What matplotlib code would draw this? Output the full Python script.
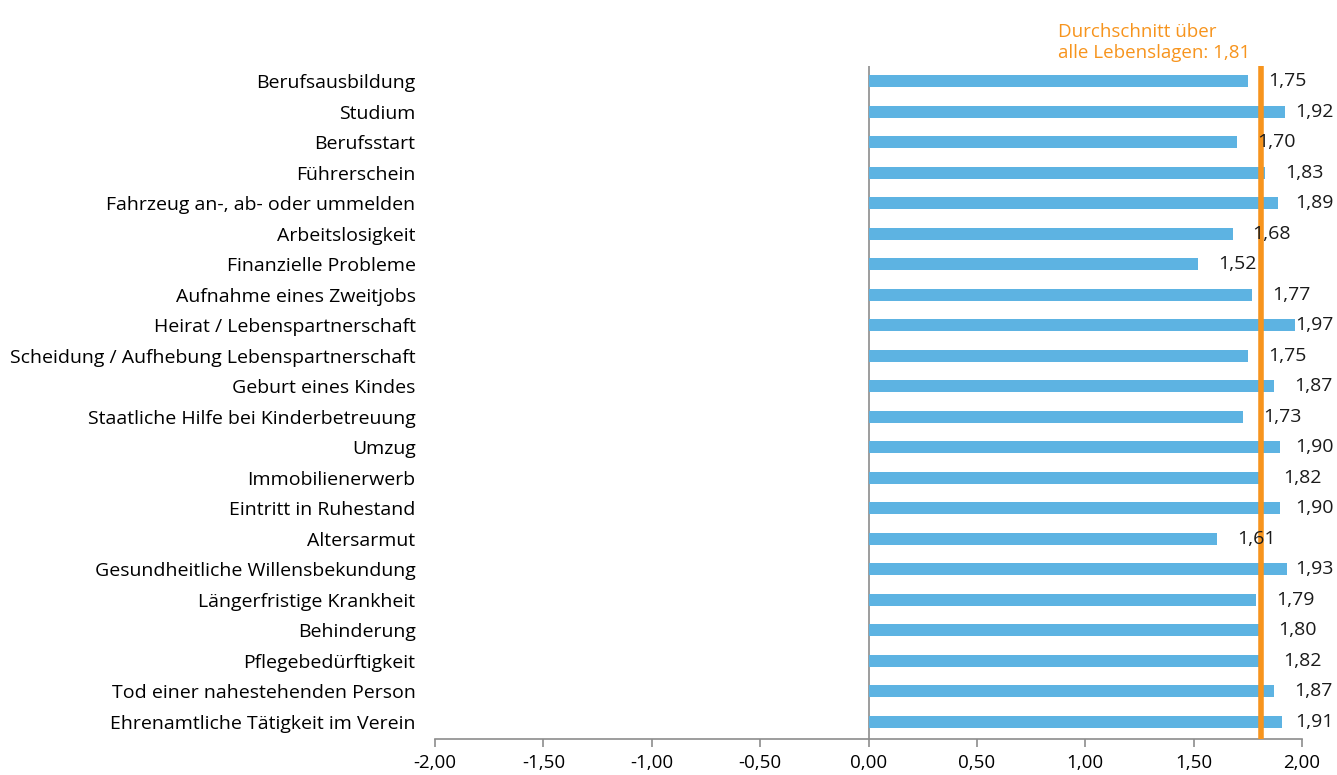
import matplotlib.pyplot as plt

# --- Daten ---
lebenslagen = [
    "Berufsausbildung", "Studium", "Berufsstart", "Führerschein",
    "Fahrzeug an-, ab- oder ummelden", "Arbeitslosigkeit", "Finanzielle Probleme",
    "Aufnahme eines Zweitjobs", "Heirat / Lebenspartnerschaft",
    "Scheidung / Aufhebung Lebenspartnerschaft", "Geburt eines Kindes",
    "Staatliche Hilfe bei Kinderbetreuung", "Umzug", "Immobilienerwerb",
    "Eintritt in Ruhestand", "Altersarmut", "Gesundheitliche Willensbekundung",
    "Längerfristige Krankheit", "Behinderung", "Pflegebedürftigkeit",
    "Tod einer nahestehenden Person", "Ehrenamtliche Tätigkeit im Verein",
]
werte = [1.75, 1.92, 1.70, 1.83, 1.89, 1.68, 1.52, 1.77, 1.97, 1.75, 1.87,
         1.73, 1.90, 1.82, 1.90, 1.61, 1.93, 1.79, 1.80, 1.82, 1.87, 1.91]
durchschnitt = 1.81
x_ticks = [-2.0, -1.5, -1.0, -0.5, 0.0, 0.5, 1.0, 1.5, 2.0]

blau = "#5DB3E2"
orange = "#F7941D"
grau = "#8C8C8C"

plt.rcParams['font.family'] = ['Open Sans', 'DejaVu Sans']

fig = plt.figure(figsize=(13.37, 7.75), dpi=100)
ax = fig.add_axes([0.3254, 0.0465, 0.6484, 0.8683])

pos = list(range(len(lebenslagen)))
ax.barh(pos, werte, height=0.4, color=blau, zorder=2)

# Nulllinie
ax.axvline(0, color=grau, linewidth=1.2, zorder=1)

# Durchschnittslinie
ax.axvline(durchschnitt, color=orange, linewidth=4, zorder=3)
ax.text(0.875, -0.62, "Durchschnitt über\nalle Lebenslagen: 1,81",
        color=orange, fontsize=13.5, ha="left", va="bottom", linespacing=1.25,
        clip_on=False)

# Wertelabels (wie in Excel: rechts neben dem Balken, aber nicht über den Rand)
for p, w in zip(pos, werte):
    lx = min(w + 0.092, 1.968)
    ax.text(lx, p, f"{w:.2f}".replace(".", ","), va="center", ha="left",
            fontsize=14, color="#1a1a1a", zorder=4)

ax.set_xlim(-2, 2)
ax.set_ylim(21.56, -0.5)
ax.set_xticks(x_ticks)
ax.set_xticklabels([f"{t:.2f}".replace(".", ",") for t in x_ticks], fontsize=13.5)
ax.set_yticks(pos)
ax.set_yticklabels(lebenslagen, fontsize=14)
ax.tick_params(axis="y", length=0, pad=14)
ax.tick_params(axis="x", length=6, width=1.2, color=grau, pad=5)

for s in ["top", "right", "left"]:
    ax.spines[s].set_visible(False)
ax.spines["bottom"].set_color(grau)
ax.spines["bottom"].set_linewidth(1.2)

plt.savefig("out.png", dpi=100)
